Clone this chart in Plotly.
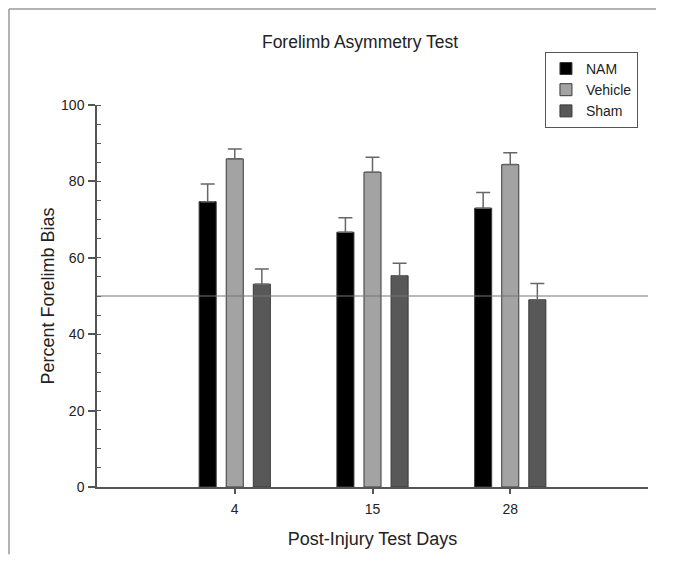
import plotly.graph_objects as go

days = ["4", "15", "28"]
groups = ["NAM", "Vehicle", "Sham"]
nam = [74.7, 66.7, 73.0]
nam_err = [4.6, 3.8, 4.1]
vehicle = [85.9, 82.4, 84.4]
vehicle_err = [2.6, 3.9, 3.1]
sham = [53.1, 55.3, 49.0]
sham_err = [4.0, 3.3, 4.3]
reference_level = 50
y_ticks = [0, 20, 40, 60, 80, 100]

colors = {"NAM": "#000000", "Vehicle": "#a3a3a3", "Sham": "#585858"}
values = {"NAM": (nam, nam_err), "Vehicle": (vehicle, vehicle_err), "Sham": (sham, sham_err)}

font_family = "Liberation Sans, Arial, sans-serif"

fig = go.Figure()
for g in groups:
    v, e = values[g]
    fig.add_trace(go.Bar(
        name=g, x=days, y=v,
        marker=dict(color=colors[g], line=dict(color="#3a3a3a", width=1)),
        error_y=dict(type="data", array=e, arrayminus=[0] * len(e), symmetric=False,
                     color="#666666", thickness=1.5, width=7),
    ))

fig.add_shape(type="line", xref="paper", yref="y", x0=0, x1=1,
              y0=reference_level, y1=reference_level,
              line=dict(color="#777777", width=1.2))

# outer frame: left and top edges only, kept inside the canvas
frame_line = dict(color="#9a9a9a", width=1.5)
fig.add_shape(type="line", xref="paper", yref="paper",
              x0=-0.1597, x1=-0.1597, y0=-0.176, y1=1.2513, line=frame_line, layer="below")
fig.add_shape(type="line", xref="paper", yref="paper",
              x0=-0.1597, x1=1.0145, y0=1.2513, y1=1.2513, line=frame_line, layer="below")

fig.update_layout(
    width=650, height=548,
    margin=dict(l=89, r=10, t=97, b=69),
    paper_bgcolor="white", plot_bgcolor="white",
    font=dict(family=font_family, color="#222222", size=14),
    barmode="group", bargap=0.41, bargroupgap=0.37,
    title=dict(text="Forelimb Asymmetry Test", x=352 / 650, xanchor="center",
               y=1 - 34 / 548, yanchor="middle", font=dict(size=17.5, color="#222222")),
    showlegend=True,
    legend=dict(x=0.813, y=1.139, xanchor="left", yanchor="top",
                bordercolor="#555555", borderwidth=1, bgcolor="white",
                font=dict(size=14), traceorder="normal",
                tracegroupgap=0, itemwidth=30),
    xaxis=dict(
        type="category", range=[-1, 3],
        showline=True, linecolor="#555555", linewidth=1.5,
        ticks="outside", ticklen=5, tickcolor="#555555", tickwidth=1.5,
        ticklabelstandoff=3,
        showgrid=False, zeroline=False,
        title=dict(text="Post-Injury Test Days", standoff=17, font=dict(size=18)),
    ),
    yaxis=dict(
        range=[0, 100], tickvals=y_ticks,
        showline=True, linecolor="#555555", linewidth=1.5,
        ticks="outside", ticklen=7, tickcolor="#555555", tickwidth=1.5,
        ticklabelstandoff=1,
        minor=dict(dtick=5, ticks="inside", ticklen=4, tickcolor="#555555", tickwidth=1),
        showgrid=False, zeroline=False,
        title=dict(text="Percent Forelimb Bias", standoff=2, font=dict(size=18)),
    ),
)

fig.write_html("out.html")
